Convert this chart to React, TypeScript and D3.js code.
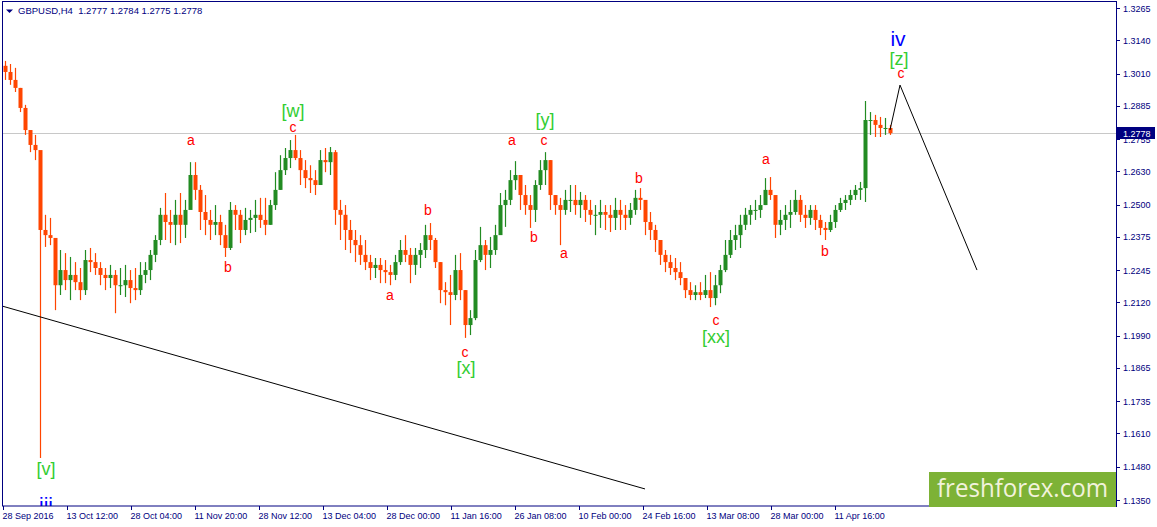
import { useRef, useEffect } from 'react';
import * as d3 from 'd3';

const WIDTH = 1157;
const HEIGHT = 527;

const symbolTitle = 'GBPUSD,H4';
const lastBar = [1.2777, 1.2784, 1.2775, 1.2778];
const lastPrice = 1.2778;

// each candle groups 5 H4 bars; open = previous close
const barsPerCandle = 5;
const firstOpen = 1.304;
// [high, low, close]
const candles: [number, number, number][] = [
  [1.3059, 1.2985, 1.3016], [1.3047, 1.2966, 1.2985], [1.3032, 1.2938, 1.2954], [1.2954, 1.286, 1.2876],
  [1.2888, 1.2771, 1.279], [1.2779, 1.2704, 1.2732], [1.2771, 1.2673, 1.2712], [1.2673, 1.1513, 1.2401],
  [1.246, 1.2335, 1.2381], [1.2448, 1.2342, 1.237], [1.2362, 1.2089, 1.2186], [1.2323, 1.2148, 1.2245],
  [1.2311, 1.2167, 1.2206], [1.2296, 1.2128, 1.2226], [1.2276, 1.2167, 1.2198], [1.2253, 1.2128, 1.2167],
  [1.2323, 1.2148, 1.2284], [1.2331, 1.2237, 1.2276], [1.2311, 1.2226, 1.2253], [1.2276, 1.2186, 1.2226],
  [1.2253, 1.2167, 1.2214], [1.2265, 1.2175, 1.2226], [1.2245, 1.2077, 1.2186], [1.2253, 1.2148, 1.2186],
  [1.2265, 1.214, 1.2206], [1.2245, 1.2116, 1.2175], [1.2253, 1.2128, 1.2167], [1.2276, 1.2148, 1.2226],
  [1.2276, 1.2194, 1.2245], [1.2323, 1.2206, 1.2304], [1.2381, 1.2276, 1.2362], [1.2487, 1.2342, 1.246],
  [1.2545, 1.2362, 1.2432], [1.2479, 1.235, 1.2421], [1.2518, 1.2342, 1.246], [1.2545, 1.235, 1.2421],
  [1.2518, 1.237, 1.2479], [1.2665, 1.2498, 1.2615], [1.2665, 1.2518, 1.2557], [1.2576, 1.2401, 1.2471],
  [1.2537, 1.2381, 1.244], [1.2479, 1.2362, 1.2421], [1.2498, 1.2381, 1.2432], [1.246, 1.2342, 1.2381],
  [1.2421, 1.2296, 1.2331], [1.251, 1.2323, 1.2479], [1.2498, 1.2401, 1.246], [1.2479, 1.235, 1.2401],
  [1.2487, 1.2381, 1.244], [1.2479, 1.2389, 1.2448], [1.2518, 1.2393, 1.246], [1.2526, 1.2409, 1.244],
  [1.2526, 1.2381, 1.2421], [1.2518, 1.2421, 1.2498], [1.2626, 1.2479, 1.2557], [1.2692, 1.2557, 1.2634],
  [1.272, 1.2615, 1.2681], [1.2751, 1.2642, 1.2712], [1.2771, 1.2673, 1.2681], [1.2712, 1.2576, 1.2634],
  [1.2673, 1.2564, 1.2603], [1.2653, 1.2545, 1.2595], [1.2634, 1.2537, 1.2576], [1.2712, 1.2576, 1.2673],
  [1.272, 1.2626, 1.2665], [1.2724, 1.2615, 1.2704], [1.2712, 1.2421, 1.2479], [1.2518, 1.2362, 1.246],
  [1.2498, 1.2323, 1.2401], [1.244, 1.2311, 1.2362], [1.2401, 1.2276, 1.2342], [1.2381, 1.2265, 1.2304],
  [1.2362, 1.2245, 1.2276], [1.2304, 1.2206, 1.2253], [1.2292, 1.2214, 1.2265], [1.2292, 1.2194, 1.2245],
  [1.2284, 1.2194, 1.2237], [1.2265, 1.2186, 1.2226], [1.2304, 1.2206, 1.2276], [1.2362, 1.2265, 1.2323],
  [1.2381, 1.2276, 1.2304], [1.2331, 1.2194, 1.2265], [1.2331, 1.2226, 1.2304], [1.235, 1.2253, 1.2323],
  [1.2421, 1.2292, 1.2381], [1.2428, 1.2323, 1.2362], [1.237, 1.2253, 1.2276], [1.2276, 1.2116, 1.2167],
  [1.2198, 1.2108, 1.2159], [1.2226, 1.2031, 1.2148], [1.2304, 1.2128, 1.2245], [1.2311, 1.2128, 1.2167],
  [1.2167, 1.1981, 1.2031], [1.2089, 1.1992, 1.2058], [1.2323, 1.205, 1.2284], [1.2413, 1.2276, 1.2342],
  [1.2362, 1.2245, 1.2304], [1.2374, 1.2253, 1.2323], [1.2421, 1.2304, 1.2381], [1.2545, 1.2401, 1.2498],
  [1.2557, 1.2413, 1.2518], [1.2634, 1.2498, 1.2595], [1.2669, 1.2557, 1.2615], [1.2607, 1.2479, 1.2537],
  [1.2576, 1.246, 1.2498], [1.2537, 1.2409, 1.2479], [1.2595, 1.2432, 1.2576], [1.2673, 1.2557, 1.2634],
  [1.2704, 1.2576, 1.2673], [1.2673, 1.2479, 1.2537], [1.2537, 1.246, 1.2498], [1.2526, 1.2342, 1.2479],
  [1.2557, 1.246, 1.2518], [1.2576, 1.2471, 1.2518], [1.2576, 1.246, 1.2498], [1.2549, 1.2448, 1.2518],
  [1.2537, 1.2432, 1.2479], [1.2518, 1.2421, 1.246], [1.2498, 1.2381, 1.246], [1.2518, 1.2409, 1.2471],
  [1.2498, 1.2401, 1.246], [1.2498, 1.2393, 1.2448], [1.2526, 1.2401, 1.2479], [1.2518, 1.2401, 1.246],
  [1.2498, 1.2401, 1.2448], [1.2506, 1.2421, 1.2479], [1.2557, 1.246, 1.2526], [1.2564, 1.2479, 1.2518],
  [1.2498, 1.2381, 1.2432], [1.2471, 1.2362, 1.2401], [1.2421, 1.2315, 1.2362], [1.2362, 1.2265, 1.2304],
  [1.2323, 1.2237, 1.2276], [1.2304, 1.2226, 1.2253], [1.2292, 1.2206, 1.2237], [1.2276, 1.2186, 1.2214],
  [1.2214, 1.2136, 1.2167], [1.2198, 1.2128, 1.2148], [1.2186, 1.2128, 1.2159], [1.2198, 1.2128, 1.2148],
  [1.2226, 1.2136, 1.2167], [1.2237, 1.2101, 1.2136], [1.2226, 1.2108, 1.2186], [1.2265, 1.2155, 1.2245],
  [1.2362, 1.2237, 1.2304], [1.2401, 1.2292, 1.2362], [1.2421, 1.2323, 1.2381], [1.246, 1.2331, 1.2421],
  [1.2487, 1.2401, 1.246], [1.2498, 1.2421, 1.2479], [1.2518, 1.244, 1.2479], [1.2537, 1.2448, 1.2498],
  [1.2603, 1.2498, 1.2557], [1.2607, 1.2518, 1.2537], [1.2518, 1.237, 1.2421], [1.2479, 1.2381, 1.244],
  [1.2498, 1.2401, 1.246], [1.2518, 1.2409, 1.2471], [1.2557, 1.246, 1.2518], [1.2537, 1.2432, 1.246],
  [1.2498, 1.2409, 1.2448], [1.2498, 1.2421, 1.2479], [1.2498, 1.2401, 1.244], [1.246, 1.2381, 1.2409],
  [1.2432, 1.2362, 1.2401], [1.246, 1.2393, 1.2432], [1.2498, 1.2409, 1.2479], [1.2526, 1.2471, 1.2506],
  [1.2537, 1.2479, 1.2518], [1.2557, 1.2498, 1.2537], [1.2576, 1.2518, 1.2557], [1.2588, 1.2518, 1.2564],
  [1.2903, 1.251, 1.2829], [1.286, 1.2771, 1.2829], [1.2849, 1.2763, 1.281], [1.2841, 1.2763, 1.2798],
  [1.2837, 1.2771, 1.2798], [1.281, 1.2771, 1.2778],
];

const priceTicks = [
  1.3265, 1.314, 1.301, 1.2885, 1.2755, 1.263, 1.25, 1.2375,
  1.2245, 1.212, 1.199, 1.1865, 1.1735, 1.161, 1.148, 1.135,
];
const priceMin = 1.135;
const priceMax = 1.3265;

const timeLabels = [
  '28 Sep 2016', '13 Oct 12:00', '28 Oct 04:00', '11 Nov 20:00', '28 Nov 12:00',
  '13 Dec 04:00', '28 Dec 00:00', '11 Jan 16:00', '26 Jan 08:00', '10 Feb 00:00',
  '24 Feb 16:00', '13 Mar 08:00', '28 Mar 00:00', '11 Apr 16:00',
];
const barsPerTimeLabel = 64;
const visibleBars = 1113;

type Degree = 'minor' | 'intermediate' | 'primary';
const waveLabels: { text: string; bar: number; price: number; degree: Degree }[] = [
  { text: '[w]', bar: 290, price: 1.2864, degree: 'intermediate' },
  { text: 'c', bar: 290, price: 1.2802, degree: 'minor' },
  { text: 'a', bar: 188, price: 1.2751, degree: 'minor' },
  { text: 'b', bar: 225, price: 1.2257, degree: 'minor' },
  { text: 'a', bar: 387, price: 1.2148, degree: 'minor' },
  { text: 'b', bar: 425, price: 1.2479, degree: 'minor' },
  { text: 'c', bar: 462, price: 1.1926, degree: 'minor' },
  { text: '[x]', bar: 463, price: 1.1864, degree: 'intermediate' },
  { text: 'a', bar: 509, price: 1.2751, degree: 'minor' },
  { text: '[y]', bar: 542, price: 1.2829, degree: 'intermediate' },
  { text: 'c', bar: 541, price: 1.2751, degree: 'minor' },
  { text: 'b', bar: 531, price: 1.2374, degree: 'minor' },
  { text: 'a', bar: 561, price: 1.2311, degree: 'minor' },
  { text: 'b', bar: 636, price: 1.2603, degree: 'minor' },
  { text: 'c', bar: 713, price: 1.205, degree: 'minor' },
  { text: '[xx]', bar: 713, price: 1.1984, degree: 'intermediate' },
  { text: 'a', bar: 763, price: 1.2677, degree: 'minor' },
  { text: 'b', bar: 822, price: 1.2319, degree: 'minor' },
  { text: 'iv', bar: 895, price: 1.3148, degree: 'primary' },
  { text: '[z]', bar: 896, price: 1.3067, degree: 'intermediate' },
  { text: 'c', bar: 898, price: 1.3012, degree: 'minor' },
  { text: '[v]', bar: 43, price: 1.147, degree: 'intermediate' },
  { text: 'iii', bar: 43, price: 1.1334, degree: 'primary' },
];

const trendLine = [
  { bar: -1, price: 1.2105 },
  { bar: 642, price: 1.1393 },
];
const forecastPath = [
  { bar: 887, price: 1.279 },
  { bar: 897, price: 1.2965 },
  { bar: 974, price: 1.2245 },
];

const degreeStyle: Record<Degree, { color: string; size: number }> = {
  minor: { color: '#ff0000', size: 14 },
  intermediate: { color: '#32cd32', size: 18 },
  primary: { color: '#0000ff', size: 21 },
};

const AXIS = '#000080';
const UP = '#228b22';
const DOWN = '#ff4500';
const FONT = '"Liberation Sans", Arial, sans-serif';

export default function App(): JSX.Element {
  const svgRef = useRef<SVGSVGElement | null>(null);

  useEffect(() => {
    if (!svgRef.current) return;
    const svg = d3.select(svgRef.current);
    svg.selectAll('*').remove();

    const left = 2;
    const right = 1116;
    const top = 2;
    const bottom = 506;

    const x = d3.scaleLinear().domain([0, visibleBars]).range([3, 3 + visibleBars]);
    const y = d3.scaleLinear().domain([priceMin, priceMax]).range([500, 8]);

    svg.append('rect').attr('width', WIDTH).attr('height', HEIGHT).attr('fill', '#ffffff');

    svg.append('clipPath').attr('id', 'plot')
      .append('rect')
      .attr('x', left).attr('y', top)
      .attr('width', right - left).attr('height', bottom - top);

    const plot = svg.append('g').attr('clip-path', 'url(#plot)');

    // current price line
    plot.append('line')
      .attr('x1', left).attr('x2', right)
      .attr('y1', Math.round(y(lastPrice)) + 0.5).attr('y2', Math.round(y(lastPrice)) + 0.5)
      .attr('stroke', '#c8c8c8');

    // candles
    const rows = candles.map((c, i) => ({
      open: i === 0 ? firstOpen : candles[i - 1][2],
      high: c[0],
      low: c[1],
      close: c[2],
      cx: Math.round(x(i * barsPerCandle + 2)) + 0.5,
    }));

    const g = plot.append('g');
    g.selectAll('line.wick')
      .data(rows)
      .join('line')
      .attr('class', 'wick')
      .attr('x1', d => d.cx).attr('x2', d => d.cx)
      .attr('y1', d => y(d.high)).attr('y2', d => y(d.low))
      .attr('stroke', d => (d.close >= d.open ? UP : DOWN))
      .attr('stroke-width', 1.2);

    g.selectAll('rect.body')
      .data(rows)
      .join('rect')
      .attr('class', 'body')
      .attr('x', d => d.cx - 2)
      .attr('width', 4)
      .attr('y', d => y(Math.max(d.open, d.close)))
      .attr('height', d => Math.max(1, Math.abs(y(d.open) - y(d.close))))
      .attr('fill', d => (d.close >= d.open ? UP : DOWN));

    // trend lines
    const line = d3.line<{ bar: number; price: number }>()
      .x(d => x(d.bar))
      .y(d => y(d.price));

    plot.append('path').attr('d', line(trendLine))
      .attr('fill', 'none').attr('stroke', '#000').attr('stroke-width', 1);
    plot.append('path').attr('d', line(forecastPath))
      .attr('fill', 'none').attr('stroke', '#000').attr('stroke-width', 1);

    // wave labels
    plot.selectAll('text.wave')
      .data(waveLabels)
      .join('text')
      .attr('class', 'wave')
      .attr('x', d => x(d.bar))
      .attr('y', d => y(d.price))
      .attr('text-anchor', 'middle')
      .attr('dominant-baseline', 'central')
      .attr('font-family', FONT)
      .attr('font-size', d => degreeStyle[d.degree].size)
      .attr('fill', d => degreeStyle[d.degree].color)
      .text(d => d.text);

    // frame
    svg.append('rect')
      .attr('x', left + 0.5).attr('y', top - 0.5)
      .attr('width', right - left).attr('height', bottom - top + 0.5)
      .attr('fill', 'none').attr('stroke', AXIS);

    // price axis
    const pa = svg.append('g');
    pa.selectAll('line')
      .data(priceTicks)
      .join('line')
      .attr('x1', right).attr('x2', right + 4)
      .attr('y1', d => Math.round(y(d)) + 0.5).attr('y2', d => Math.round(y(d)) + 0.5)
      .attr('stroke', AXIS);
    pa.selectAll('text')
      .data(priceTicks)
      .join('text')
      .attr('x', right + 7)
      .attr('y', d => y(d) + 3.5)
      .attr('font-family', FONT)
      .attr('font-size', 9)
      .attr('fill', AXIS)
      .text(d => d.toFixed(4));

    // time axis
    const ta = svg.append('g');
    ta.selectAll('line')
      .data(timeLabels)
      .join('line')
      .attr('x1', (_, i) => Math.round(x(i * barsPerTimeLabel)) + 0.5)
      .attr('x2', (_, i) => Math.round(x(i * barsPerTimeLabel)) + 0.5)
      .attr('y1', bottom).attr('y2', bottom + 4)
      .attr('stroke', AXIS);
    ta.selectAll('text')
      .data(timeLabels)
      .join('text')
      .attr('x', (_, i) => x(i * barsPerTimeLabel) - 0.5)
      .attr('y', 519)
      .attr('font-family', FONT)
      .attr('font-size', 9)
      .attr('fill', AXIS)
      .text(d => d);

    // watermark
    svg.append('rect')
      .attr('x', 929).attr('y', 472)
      .attr('width', right - 929).attr('height', 35)
      .attr('fill', '#7db236');
    svg.append('text')
      .attr('x', 937).attr('y', 497)
      .attr('font-family', '"Open Sans", "DejaVu Sans", sans-serif')
      .attr('font-size', 25)
      .attr('textLength', 171)
      .attr('lengthAdjust', 'spacingAndGlyphs')
      .attr('fill', '#f2f2dc')
      .text('freshforex.com');
    svg.append('line')
      .attr('x1', right + 0.5).attr('x2', right + 0.5)
      .attr('y1', top - 1).attr('y2', bottom + 1)
      .attr('stroke', AXIS);

    // last price marker
    const ly = Math.round(y(lastPrice));
    svg.append('rect')
      .attr('x', right + 1).attr('y', ly - 6)
      .attr('width', 38).attr('height', 12)
      .attr('fill', AXIS);
    svg.append('text')
      .attr('x', right + 7).attr('y', ly + 3.5)
      .attr('font-family', FONT)
      .attr('font-size', 9)
      .attr('fill', '#ffffff')
      .text(lastPrice.toFixed(4));

    // header
    svg.append('path')
      .attr('d', 'M6,9.5 L13,9.5 L9.5,13 Z')
      .attr('fill', AXIS);
    svg.append('text')
      .attr('x', 18).attr('y', 14)
      .attr('font-family', FONT)
      .attr('font-size', 9.5)
      .attr('fill', AXIS)
      .attr('xml:space', 'preserve')
      .text(`${symbolTitle}  ${lastBar.map(v => v.toFixed(4)).join(' ')}`);
  }, []);

  return (
    <svg
      ref={svgRef}
      width={WIDTH}
      height={HEIGHT}
      style={{ position: 'absolute', left: 0, top: 0, display: 'block' }}
    />
  );
}
